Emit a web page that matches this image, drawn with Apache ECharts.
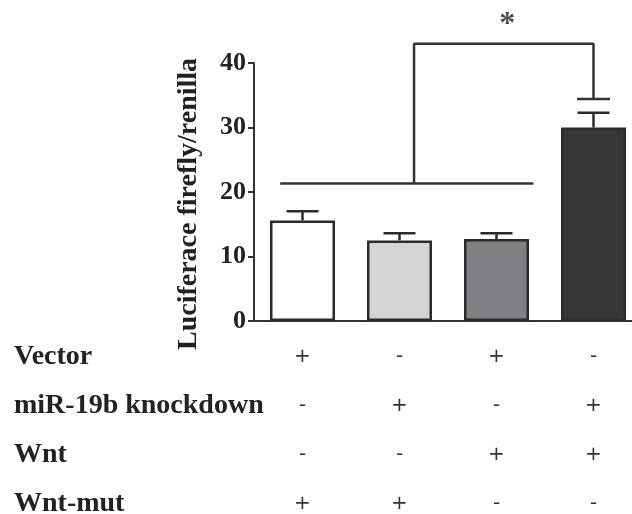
<!DOCTYPE html>
<html>
<head>
<meta charset="utf-8">
<script src="https://cdn.jsdelivr.net/npm/echarts@6/dist/echarts.min.js"></script>
<style>
  html, body { margin: 0; padding: 0; background: #fff; }
  #main { width: 632px; height: 514px; }
</style>
</head>
<body>
<div id="main"></div>
<script>
// data
var groups = ["g1", "g2", "g3", "g4"];
var means = [15.6, 12.5, 12.7, 30.0];
var errors = [1.4, 1.1, 0.9, 2.3];
var barColors = ["#ffffff", "#d4d5d7", "#7f8084", "#363636"];
var yTicks = [0, 10, 20, 30, 40];

// condition table under the bars
var rowNames = ["Vector", "miR-19b knockdown", "Wnt", "Wnt-mut"];
var vector = ["+", "-", "+", "-"];
var knockdown = ["-", "+", "-", "+"];
var wnt = ["-", "-", "+", "+"];
var wntMut = ["+", "+", "-", "-"];

// significance bracket (x in category units, y in axis units)
var bracketLow = [[-0.23, 21.3], [2.38, 21.3]];
var bracketHigh = [[1.15, 21.3], [1.15, 43.0], [3.0, 43.0], [3.0, 34.4]];
var bracketCap = [[2.83, 34.4], [3.17, 34.4]];
var star = [2.11, 46.0];

var serif = "'Liberation Serif', 'Times New Roman', serif";
var axisColor = "#333";

var chart = echarts.init(document.getElementById("main"));

var option = {
  animation: false,
  backgroundColor: "#fff",
  grid: {
    left: 254,
    right: -10,
    top: 63,
    bottom: 193,
    outerBoundsMode: "none"
  },
  xAxis: [
    {
      type: "category",
      data: groups,
      axisLine: { lineStyle: { color: axisColor, width: 2 } },
      axisTick: { alignWithLabel: true, length: 6, lineStyle: { color: axisColor, width: 2 } },
      axisLabel: {
        margin: 11,
        lineHeight: 49,
        fontSize: 20,
        fontFamily: "'DejaVu Sans', sans-serif",
        color: "#333",
        formatter: function (v, i) {
          return [vector[i], knockdown[i], wnt[i], wntMut[i]].join("\n");
        }
      }
    },
    {
      // hidden helper axis for the bracket
      type: "value",
      min: -0.5,
      max: 3.5,
      show: false
    }
  ],
  yAxis: {
    type: "value",
    min: 0,
    max: 40,
    interval: 10,
    axisLine: { show: true, onZero: false, lineStyle: { color: axisColor, width: 2 } },
    axisTick: { show: true, length: 6, lineStyle: { color: axisColor, width: 2 } },
    splitLine: { show: false },
    axisLabel: {
      margin: 8,
      fontSize: 26,
      fontWeight: "bold",
      fontFamily: serif,
      color: "#222",
      formatter: function (v) {
        return yTicks.indexOf(v) >= 0 ? String(v) : "";
      }
    }
  },
  graphic: [
    {
      type: "text",
      x: 189,
      y: 204,
      rotation: Math.PI / 2,
      style: {
        text: "Luciferace firefly/renilla",
        fontSize: 28,
        fontWeight: "bold",
        fontFamily: serif,
        fill: "#222",
        textAlign: "center",
        textVerticalAlign: "middle"
      }
    }
  ].concat(rowNames.map(function (name, i) {
    return {
      type: "text",
      x: 14,
      y: 357 + i * 49,
      style: {
        text: name,
        fontSize: 28,
        fontWeight: "bold",
        fontFamily: serif,
        fill: "#222",
        textVerticalAlign: "middle"
      }
    };
  })),
  series: [
    {
      type: "bar",
      barWidth: 65,
      data: means.map(function (v, i) {
        return { value: v, itemStyle: { color: barColors[i] } };
      }),
      itemStyle: { borderColor: "#2b2b2b", borderWidth: 2.5 },
      z: 2
    },
    {
      // error bars (upper only)
      type: "custom",
      data: means.map(function (v, i) { return [i, v, v + errors[i]]; }),
      renderItem: function (params, api) {
        var top = api.coord([api.value(0), api.value(2)]);
        var base = api.coord([api.value(0), api.value(1)]);
        var half = 16;
        var style = { stroke: "#2b2b2b", lineWidth: 2.5 };
        return {
          type: "group",
          children: [
            { type: "line", shape: { x1: base[0], y1: base[1], x2: top[0], y2: top[1] }, style: style },
            { type: "line", shape: { x1: top[0] - half, y1: top[1], x2: top[0] + half, y2: top[1] }, style: style }
          ]
        };
      },
      z: 1
    },
    {
      type: "line",
      xAxisIndex: 1,
      data: bracketLow,
      symbol: "none",
      clip: false,
      lineStyle: { color: "#333", width: 2.5 }
    },
    {
      type: "line",
      xAxisIndex: 1,
      data: bracketHigh,
      symbol: "none",
      clip: false,
      lineStyle: { color: "#333", width: 2.5 }
    },
    {
      type: "line",
      xAxisIndex: 1,
      data: bracketCap,
      symbol: "none",
      clip: false,
      lineStyle: { color: "#333", width: 2.5 }
    },
    {
      type: "scatter",
      xAxisIndex: 1,
      data: [star],
      symbolSize: 1,
      itemStyle: { color: "rgba(0,0,0,0)" },
      clip: false,
      label: {
        show: true,
        position: "inside",
        formatter: "*",
        fontSize: 32,
        fontWeight: "bold",
        fontFamily: serif,
        color: "#222"
      }
    }
  ]
};

chart.setOption(option);
</script>
</body>
</html>
